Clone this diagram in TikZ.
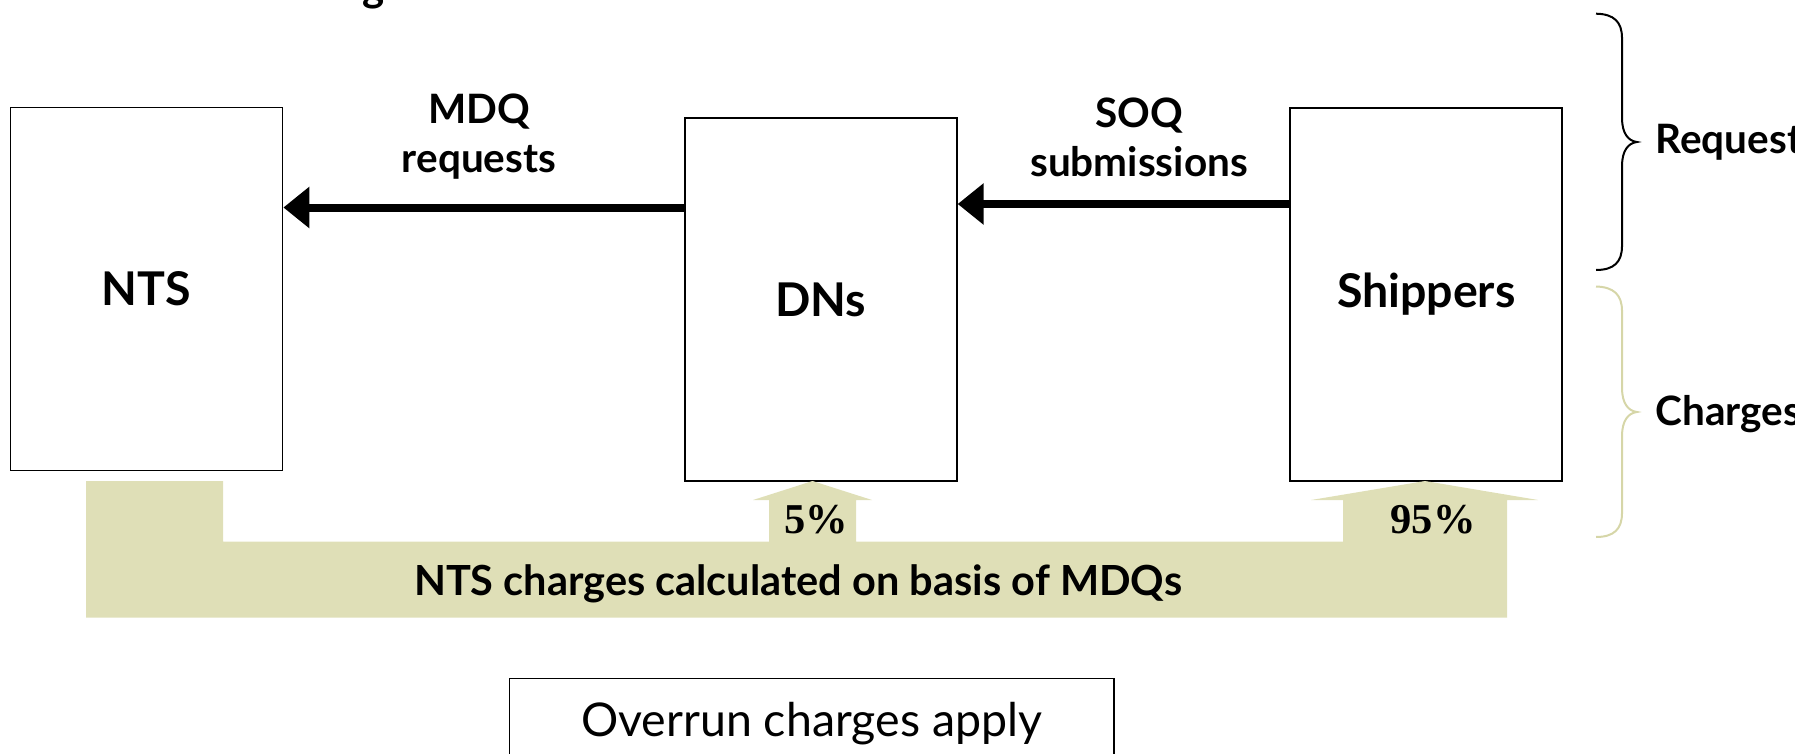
\documentclass[tikz,border=0pt]{standalone}
\usepackage{fontspec}
\setmainfont{Lato}
\newfontfamily\numfont{Liberation Serif}
\usetikzlibrary{arrows.meta}
\definecolor{olivefill}{RGB}{223,223,183}
\definecolor{olivebrace}{RGB}{214,214,168}
\begin{document}
\begin{tikzpicture}[x=1pt,y=-1pt,
  box/.style={draw,line width=1.8pt,minimum width=272pt,minimum height=363pt,inner sep=0pt,font=\fontsize{46.5}{54}\selectfont\bfseries},
  flow/.style={line width=8pt,-{Triangle[length=26pt,width=40pt]}},
  lbl/.style={align=center,font=\fontsize{40.5}{49}\selectfont\bfseries},
  side/.style={anchor=west,font=\fontsize{40.5}{48}\selectfont\bfseries},
  pct/.style={font=\fontsize{42.5}{46}\selectfont\numfont\bfseries},
  bracepath/.style={line width=2pt}]
\useasboundingbox (0,0) rectangle (1795,754);
% partial title glyph at top edge
\node[anchor=base,inner sep=0pt,font=\fontsize{42}{42}\selectfont\bfseries] (ttl) at (374,2) {g};
% boxes
\node[box] (NTS) at (146.5,289) {NTS};
\node[box] (DNs) at (820.8,299.5) {DNs};
\node[box,minimum height=373pt] (Ship) at (1426.3,294.2) {Shippers};
% arrows
\coordinate (mdqy) at (0,207.5);
\coordinate (soqy) at (0,204);
\draw[flow] (DNs.west |- mdqy) -- (NTS.east |- mdqy);
\draw[flow] (Ship.west |- soqy) -- (DNs.east |- soqy);
\node[lbl] (mdq) at (479,137) {MDQ\\requests};
\node[lbl] (soq) at (1139,137) {SOQ\\submissions};
% charges shape
\fill[olivefill] (86,481) -- (223,481) -- (223,541.7) -- (769,541.7) -- (769,500) -- (753,500) -- (812.5,481) -- (872,500) -- (856,500) -- (856,541.7) -- (1343,541.7) -- (1343,500) -- (1311,500) -- (1425,481) -- (1538,500) -- (1507,500) -- (1507,617.5) -- (86,617.5) -- cycle;
\node[pct] (p5) at (816,520) {5\%};
\node[pct] (p95) at (1433,520) {95\%};
\node[font=\fontsize{41.5}{46}\selectfont\bfseries] (ntsch) at (798,584) {NTS charges calculated on basis of MDQs};
% overrun box
\node[draw,line width=1.5pt,minimum width=604.6pt,minimum height=90pt,inner sep=0pt,font=\fontsize{46.5}{52}\selectfont] (over) at (811.7,723.5) {Overrun charges apply};
% braces
\draw[bracepath] (1596,13.7) .. controls (1614,14) and (1622,22) .. (1622,38) -- (1622,118) .. controls (1622,133) and (1628,141) .. (1637,142) .. controls (1628,143) and (1622,151) .. (1622,166) -- (1622,246) .. controls (1622,262) and (1614,270) .. (1596,270);
\draw[bracepath,olivebrace] (1596,286.5) .. controls (1614,287) and (1622,295) .. (1622,311) -- (1622,388) .. controls (1622,403) and (1628,411) .. (1637,412) .. controls (1628,413) and (1622,421) .. (1622,436) -- (1622,513) .. controls (1622,529) and (1614,537) .. (1596,537);
\node[side] (req) at (1652,142) {Requests};
\node[side] (chg) at (1652,414) {Charges};
\end{tikzpicture}
\end{document}
